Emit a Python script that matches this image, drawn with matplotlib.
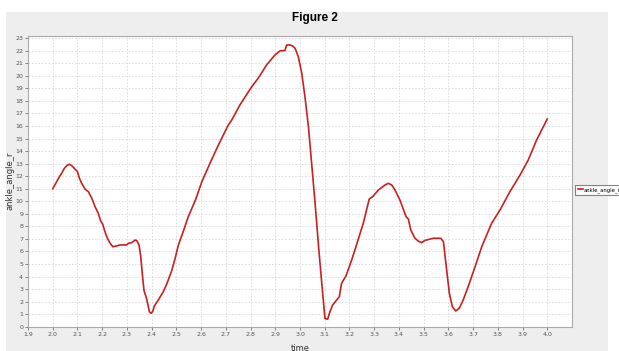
import numpy as np
import matplotlib
matplotlib.use("Agg")
import matplotlib.pyplot as plt
from matplotlib.patches import Rectangle
from matplotlib.ticker import MultipleLocator, FormatStrFormatter

# values
time = [2.000, 2.016, 2.027, 2.036, 2.047, 2.057, 2.067, 2.077, 2.087, 2.100,
        2.108, 2.117, 2.131, 2.144, 2.158, 2.171, 2.184, 2.194, 2.202, 2.211,
        2.221, 2.232, 2.243, 2.259, 2.272, 2.299, 2.306, 2.319, 2.333, 2.340,
        2.349, 2.356, 2.362, 2.369, 2.380, 2.391, 2.397, 2.404, 2.411, 2.427,
        2.447, 2.461, 2.481, 2.495, 2.508, 2.528, 2.548, 2.562, 2.579, 2.603,
        2.636, 2.670, 2.710, 2.724, 2.757, 2.805, 2.831, 2.865, 2.899, 2.919,
        2.939, 2.946, 2.960, 2.970, 2.980, 2.993, 3.007, 3.020, 3.034, 3.047,
        3.061, 3.074, 3.088, 3.101, 3.112, 3.121, 3.132, 3.159, 3.168, 3.186,
        3.209, 3.222, 3.256, 3.280, 3.294, 3.317, 3.344, 3.357, 3.371, 3.384,
        3.404, 3.429, 3.438, 3.448, 3.465, 3.478, 3.492, 3.505, 3.539, 3.569,
        3.580, 3.590, 3.604, 3.616, 3.630, 3.644, 3.660, 3.680, 3.708, 3.735,
        3.775, 3.809, 3.849, 3.890, 3.923, 3.957, 4.000]
ankle_angle_r = [11.0, 11.57, 11.96, 12.23, 12.63, 12.84, 12.95, 12.84, 12.63, 12.36,
                 11.83, 11.43, 10.96, 10.77, 10.24, 9.57, 9.04, 8.43, 8.19, 7.58,
                 7.05, 6.65, 6.38, 6.44, 6.52, 6.52, 6.65, 6.70, 6.91, 6.86,
                 6.52, 5.58, 4.26, 2.9, 2.2, 1.2, 1.07, 1.2, 1.65, 2.13,
                 2.79, 3.4, 4.45, 5.45, 6.5, 7.6, 8.77, 9.4, 10.2, 11.56,
                 13.03, 14.49, 16.08, 16.48, 17.68, 19.14, 19.81, 20.87, 21.67, 21.99,
                 22.01, 22.46, 22.46, 22.38, 22.2, 21.53, 20.21, 18.34, 15.95, 13.03,
                 9.84, 6.65, 3.46, 0.65, 0.6, 1.2, 1.73, 2.39, 3.46, 4.05,
                 5.32, 6.12, 8.25, 10.18, 10.37, 10.9, 11.3, 11.43, 11.3, 10.9,
                 10.1, 8.77, 8.59, 7.71, 7.05, 6.83, 6.70, 6.88, 7.05, 7.05,
                 6.78, 5.05, 2.66, 1.6, 1.25, 1.47, 2.13, 3.19, 4.78, 6.38,
                 8.25, 9.31, 10.77, 12.1, 13.29, 14.89, 16.56]
xticks = np.round(np.arange(1.9, 4.01, 0.1), 1)

W, H = 619, 351
fig = plt.figure(figsize=(W / 100, H / 100), dpi=100, facecolor="white")

# grey panel behind the chart
fig.patches.append(Rectangle((6 / W, 0), 602 / W, 1 - 12 / H, transform=fig.transFigure,
                             facecolor="#eeeeee", edgecolor="none", zorder=-10))

ax = fig.add_axes([28 / W, 1 - 326.7 / H, 544 / W, 291 / H])
ax.set_zorder(1)
ax.set_facecolor("white")
ax.plot(time, ankle_angle_r, color="#cc1f1f", lw=1.2, label="ankle_angle_r")

ax.set_xlim(1.9, 4.1)
ax.set_ylim(0, 23.2)
ax.set_xticks(xticks)
ax.xaxis.set_major_formatter(FormatStrFormatter("%.1f"))
ax.yaxis.set_major_locator(MultipleLocator(1))
ax.grid(True, color="#d8d8d8", linestyle=(0, (2, 2)), lw=0.6)
ax.tick_params(labelsize=4.5, length=2, width=0.5, colors="#555555", pad=1.5)
for s in ax.spines.values():
    s.set_color("#aaaaaa")
    s.set_linewidth(0.8)

ax.set_xlabel("time", fontsize=6, color="#333333", labelpad=5)
ax.set_ylabel("ankle_angle_r", fontsize=6, color="#333333")
ax.yaxis.set_label_coords(-0.024, 0.5)

fig.text(315 / W, 1 - 18 / H, "Figure 2", ha="center", va="center", fontsize=8.5,
         fontweight="bold", fontstretch="condensed",
         family=["Liberation Sans Narrow", "Liberation Sans", "DejaVu Sans"])

leg = fig.legend(loc="center left", bbox_to_anchor=(575 / W, 1 - 190 / H), fontsize=3.8,
                 frameon=True, fancybox=False, handlelength=1.0, borderpad=0.5,
                 handletextpad=0.2, borderaxespad=0)
leg.get_frame().set_edgecolor("#666666")
leg.get_frame().set_linewidth(0.8)
leg.set_zorder(2)

fig.savefig("out.png", dpi=100)
